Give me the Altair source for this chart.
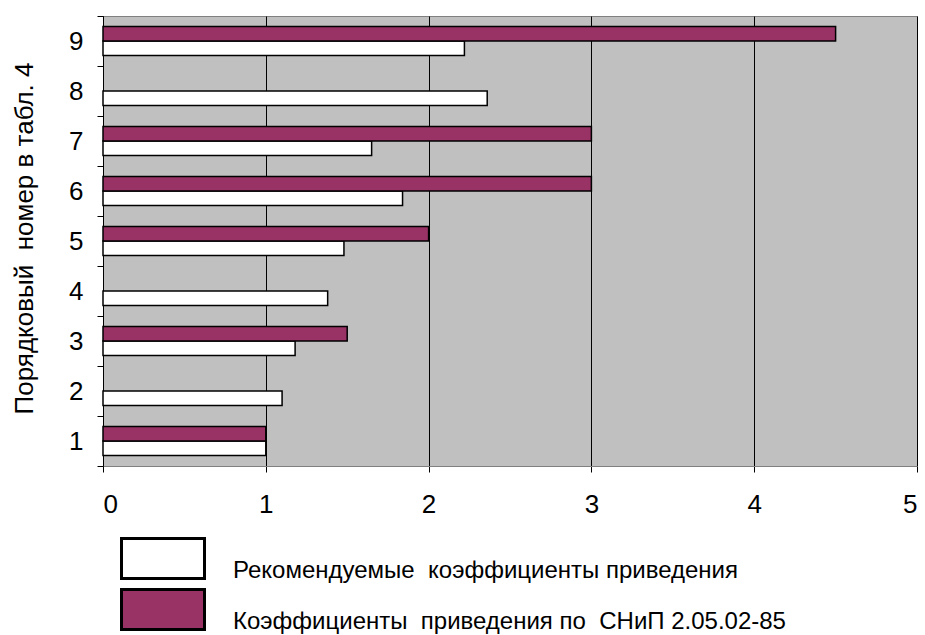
import altair as alt
import pandas as pd

nums = [1, 2, 3, 4, 5, 6, 7, 8, 9]
rec_name = "Рекомендуемые\u00a0 коэффициенты приведения"
snip_name = "Коэффициенты\u00a0 приведения по\u00a0 СНиП 2.05.02-85"
recommended = [1.0, 1.10, 1.18, 1.38, 1.48, 1.84, 1.65, 2.36, 2.22]
snip = [1.0, None, 1.5, None, 2.0, 3.0, 3.0, None, 4.5]
x_ticks = [0, 1, 2, 3, 4, 5]

rows = []
for n, r, s in zip(nums, recommended, snip):
    rows.append({"num": n, "series": rec_name, "value": r})
    if s is not None:
        rows.append({"num": n, "series": snip_name, "value": s})
df = pd.DataFrame(rows)

FONT = "Liberation Sans"

chart = alt.Chart(df).mark_bar(stroke="black", strokeWidth=1.5).encode(
    x=alt.X(
        "value:Q",
        scale=alt.Scale(domain=[0, 5], nice=False),
        axis=alt.Axis(
            values=x_ticks, grid=True, gridColor="black", gridWidth=1,
            domainColor="#808080", tickColor="black", tickSize=6,
            labelFontSize=26, labelFont=FONT, labelColor="black",
            labelPadding=19, title=None, format="d",
        ),
    ),
    y=alt.Y(
        "num:O",
        sort="descending",
        scale=alt.Scale(paddingInner=0, paddingOuter=0),
        axis=alt.Axis(
            tickBand="extent", tickColor="black", tickSize=6,
            domainColor="black", labelFontSize=26, labelFont=FONT,
            labelColor="black", labelPadding=14, labelAngle=0,
            title="Порядковый\u00a0 номер в табл. 4",
            titleFont=FONT, titleFontSize=26, titleFontWeight="normal",
            titleColor="black", titleAngle=270, titleX=-79, titleY=222,
            titleAlign="center", titleBaseline="middle",
        ),
    ),
    yOffset=alt.YOffset(
        "series:N",
        sort=[snip_name, rec_name],
        scale=alt.Scale(paddingOuter=0.72, paddingInner=0),
    ),
    color=alt.Color(
        "series:N",
        scale=alt.Scale(domain=[rec_name, snip_name], range=["white", "#993366"]),
        legend=alt.Legend(
            title=None, orient="none", legendX=38.5, legendY=521,
            direction="vertical", padding=0,
            symbolType="M-2.075,-1H2.075V1H-2.075Z", symbolSize=1600,
            symbolStrokeColor="black", symbolStrokeWidth=3, symbolOpacity=1,
            labelOffset=48.5, labelFontSize=24, labelFont=FONT,
            labelColor="black", labelLimit=800, labelBaseline="top",
            rowPadding=-2,
        ),
    ),
).properties(
    width=814, height=450,
    autosize=alt.AutoSizeParams(type="none"),
    padding={"left": 103, "top": 16, "right": 8, "bottom": 169},
    background="white",
).configure_view(fill="#C0C0C0", stroke="#808080", strokeWidth=1)

chart.save("out.html", embed_options={"renderer": "svg", "actions": False})
